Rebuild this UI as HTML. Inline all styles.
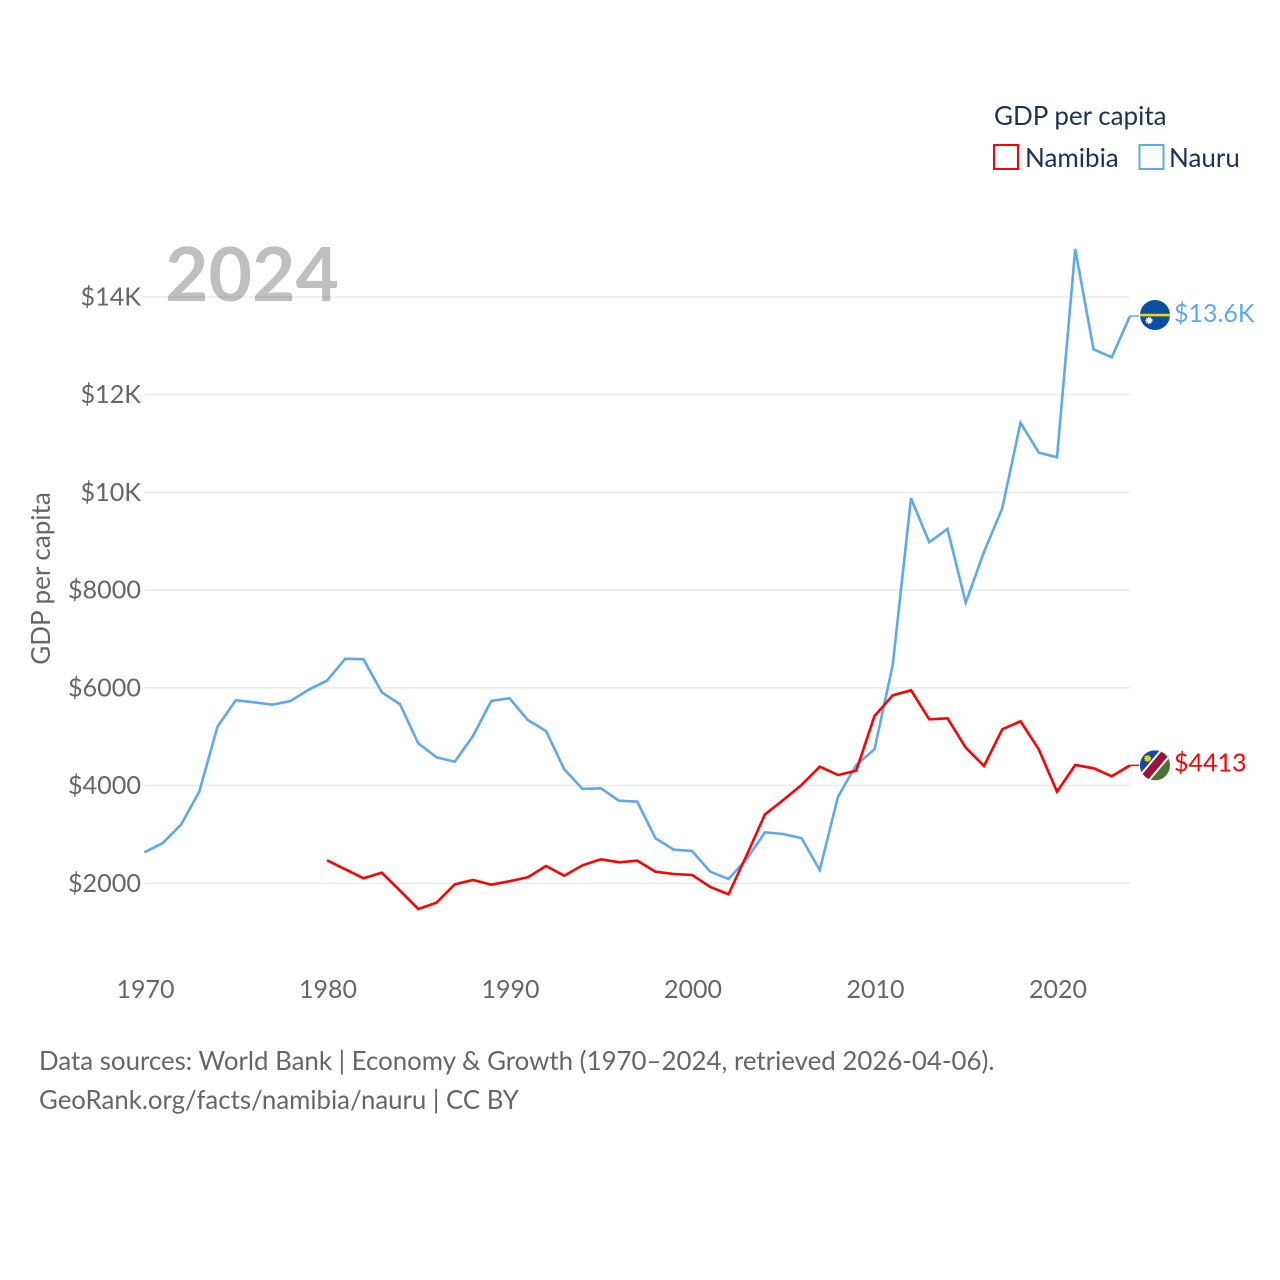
<!DOCTYPE html>
<html lang="en">
<head>
<meta charset="utf-8">
<title>GDP per capita: Namibia and Nauru</title>
<style>
html,body{margin:0;padding:0;background:#fff;}
svg{display:block;}
text{font-family:"Lato","Carlito","Liberation Sans",sans-serif;}
</style>
</head>
<body>
<svg id="chart" xmlns="http://www.w3.org/2000/svg" width="1280" height="1280" viewBox="0 0 1280 1280">
  <defs>
    <clipPath id="flag-clip"><circle cx="0" cy="0" r="15"></circle></clipPath>
  </defs>
  <g id="grid"></g>
  <g id="yticks"></g>
  <g id="xticks"></g>
  <text x="165" y="301" font-size="75" font-weight="700" fill="#000000" fill-opacity="0.25">2024</text>
  <text transform="translate(50,578.5) rotate(-90)" text-anchor="middle" font-size="26" fill="#666666">GDP per capita</text>
  <g id="series"></g>

  <g id="flag-nauru">
    <g clip-path="url(#flag-clip)">
      <rect x="-15" y="-15" width="30" height="30" fill="#0b4ea2"></rect>
      <rect x="-15" y="-1.2" width="30" height="2.6" fill="#f7d116"></rect>
      <circle cx="-6" cy="5.5" r="2.8" fill="#fff" stroke="#fff" stroke-width="1.6" stroke-dasharray="1 1"></circle>
    </g>
  </g>
  <g id="flag-namibia">
    <g clip-path="url(#flag-clip)">
      <rect x="-15" y="-15" width="30" height="30" fill="#4b7233"></rect>
      <polygon points="-15,-15 16,-15 -15,16" fill="#0b4ea2"></polygon>
      <rect x="-24" y="-6" width="48" height="12" fill="#fff" transform="rotate(-50)"></rect>
      <rect x="-24" y="-4" width="48" height="8" fill="#9b1338" transform="rotate(-50)"></rect>
      <circle cx="-7.5" cy="-7" r="2.8" fill="#ffce00" stroke="#ffce00" stroke-width="1.6" stroke-dasharray="1 1"></circle>
    </g>
  </g>

  <g id="end-labels"></g>

  <g>
    <text x="994" y="125" font-size="26" fill="#1b3354">GDP per capita</text>
    <g>
      <rect x="994" y="145" width="24" height="24" fill="none" stroke="#ff0000" stroke-width="2"></rect>
      <text x="1025" y="167" font-size="26" fill="#1b3354">Namibia</text>
    </g>
    <g>
      <rect x="1139.5" y="145" width="24" height="24" fill="none" stroke="#5ea8ee" stroke-width="2"></rect>
      <text x="1169" y="167" font-size="26" fill="#1b3354">Nauru</text>
    </g>
  </g>

  <g>
    <text x="39" y="1070" font-size="25.85" fill="#666666">Data sources: World Bank | Economy &amp; Growth (1970–2024, retrieved 2026-04-06).</text>
    <text x="39" y="1109" font-size="25.8" fill="#666666">GeoRank.org/facts/namibia/nauru | CC BY</text>
  </g>
</svg>
<script>
const years = [1970,1971,1972,1973,1974,1975,1976,1977,1978,1979,1980,1981,1982,1983,1984,1985,1986,1987,1988,1989,1990,1991,1992,1993,1994,1995,1996,1997,1998,1999,2000,2001,2002,2003,2004,2005,2006,2007,2008,2009,2010,2011,2012,2013,2014,2015,2016,2017,2018,2019,2020,2021,2022,2023,2024];
const nauruValues = [2634,2824,3199,3874,5205,5745,5704,5655,5731,5962,6146,6597,6584,5909,5663,4865,4578,4488,5014,5731,5786,5342,5117,4333,3930,3944,3690,3670,2921,2687,2661,2237,2088,2497,3043,3009,2921,2272,3772,4421,4742,6468,9879,8979,9251,7743,8780,9675,11427,10813,10718,14982,12929,12765,13611];
const namibiaValues = [null,null,null,null,null,null,null,null,null,null,2470,2286,2102,2217,1848,1474,1603,1979,2067,1971,2041,2122,2354,2155,2368,2491,2429,2462,2237,2190,2170,1924,1774,2579,3412,3705,4012,4386,4216,4304,5424,5847,5950,5356,5377,4775,4400,5151,5315,4742,3874,4421,4353,4190,4413];
const yTickValues = [2000,4000,6000,8000,10000,12000,14000];
const yTickLabels = ["$2000","$4000","$6000","$8000","$10K","$12K","$14K"];
const xTickValues = [1970,1980,1990,2000,2010,2020];
const nauruEndLabel = "$13.6K";
const namibiaEndLabel = "$4413";

const SVG_NS = "http://www.w3.org/2000/svg";
const NAURU_COLOR = "#5ea8ee";
const NAMIBIA_COLOR = "#ff0000";
function xScale(year){ return 144.5 + (year - 1970) * 18.25; }
function yScale(value){ return 981 - value * 0.04886; }
function make(tag, attrs, parent, text){
  const el = document.createElementNS(SVG_NS, tag);
  for (const k in attrs) el.setAttribute(k, attrs[k]);
  if (text !== undefined) el.textContent = text;
  parent.appendChild(el);
  return el;
}
const gridG = document.getElementById("grid");
const yG = document.getElementById("yticks");
const xG = document.getElementById("xticks");
const seriesG = document.getElementById("series");
const labelsG = document.getElementById("end-labels");

yTickValues.forEach(function(v, i){
  const line = make("line", {x1:144.5, x2:1130, y1:yScale(v), y2:yScale(v), stroke:"#ebebeb", "stroke-width":1.5}, gridG);
  
  
  const t = make("text", {x:141, y:yScale(v)+8.5, "text-anchor":"end", "font-size":25.2, fill:"#666666"}, yG, yTickLabels[i]);
  
  
});
xTickValues.forEach(function(y){
  const t = make("text", {x:xScale(y)+1, y:998, "text-anchor":"middle", "font-size":25, fill:"#666666"}, xG, String(y));
  
  
});
function linePath(values){
  let d = "", pen = false;
  values.forEach(function(v, i){
    if (v === null) { pen = false; return; }
    d += (pen ? "L" : "M") + xScale(years[i]).toFixed(2) + " " + yScale(v).toFixed(2);
    pen = true;
  });
  return d;
}
function lastValue(values){ return values[values.length - 1]; }
function drawSeries(values, color, lineName, connectorName){
  const p = make("path", {d:linePath(values), fill:"none", stroke:color, "stroke-width":2.6, "stroke-linejoin":"miter"}, seriesG);
  
  
  const endY = yScale(lastValue(values));
  const c = make("line", {x1:xScale(years[years.length-1]), x2:1139, y1:endY, y2:endY, stroke:color, "stroke-width":1.5}, seriesG);
  
  
}
drawSeries(nauruValues, NAURU_COLOR, 'nauru-line', 'nauru-connector');
drawSeries(namibiaValues, NAMIBIA_COLOR, 'namibia-line', 'namibia-connector');

document.getElementById("flag-nauru").setAttribute("transform", "translate(1155," + (yScale(lastValue(nauruValues)) - 1) + ")");
document.getElementById("flag-namibia").setAttribute("transform", "translate(1155," + yScale(lastValue(namibiaValues)) + ")");

const nauruLabel = make("text", {x:1174, y:yScale(lastValue(nauruValues))+6, "font-size":25, fill:NAURU_COLOR}, labelsG, nauruEndLabel);


const namibiaLabel = make("text", {x:1174, y:yScale(lastValue(namibiaValues))+6, "font-size":25, fill:NAMIBIA_COLOR}, labelsG, namibiaEndLabel);


</script>
</body>
</html>
